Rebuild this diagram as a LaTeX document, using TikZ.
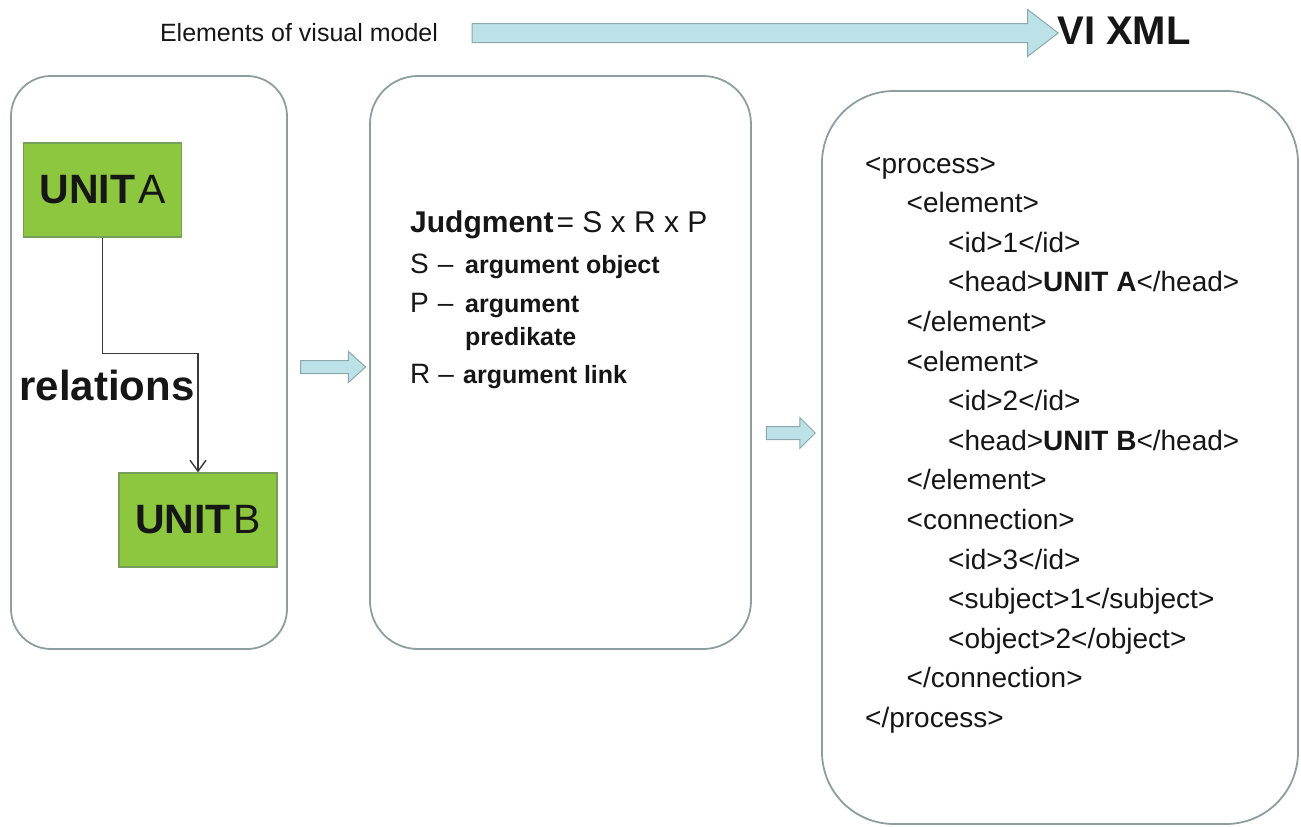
\documentclass[tikz,border=0pt]{standalone}
\usepackage{fontspec}
\setmainfont{Liberation Sans}
\usepackage{tikz}
\usetikzlibrary{arrows.meta,positioning,calc,shapes.arrows}
\definecolor{ink}{HTML}{161616}
\definecolor{frame}{HTML}{8E9E9E}
\definecolor{leaf}{HTML}{8DC63F}
\definecolor{leafedge}{HTML}{76A05A}
\definecolor{ice}{HTML}{BCE2E7}
\definecolor{iceedge}{HTML}{8AA7AA}

\begin{document}
\begin{tikzpicture}[
    x=1pt, y=-1pt,
    panel/.style={
      rectangle,
      draw=frame,
      line width=1.8pt,
      inner sep=0pt
    },
    unitbox/.style={
      rectangle,
      fill=leaf,
      draw=leafedge,
      line width=1.2pt,
      minimum width=158pt,
      minimum height=94pt,
      inner sep=0pt,
      text=ink,
      font=\fontsize{41}{49}\selectfont
    },
    blockarrow/.style={
      single arrow,
      draw=iceedge,
      fill=ice,
      line width=1pt,
      inner xsep=0pt,
      inner ysep=6pt,
      single arrow head extend=9pt,
      single arrow tip angle=84
    },
    keytext/.style={anchor=base west, inner sep=0pt, text=ink, font=\fontsize{28}{33}\selectfont},
    desctext/.style={anchor=base west, inner sep=0pt, text=ink, font=\fontsize{25}{30}\selectfont\bfseries},
    xmlline/.style={anchor=base west, inner sep=0pt, text=ink, font=\fontsize{28}{33}\selectfont},
    link/.style={draw=ink!85, line width=1.4pt, -{Straight Barb[length=11pt,width=16pt]}}
  ]
  \useasboundingbox (0,0) rectangle (1301,827);

  % title row
  \node[inner sep=0pt, text=ink, font=\fontsize{25}{30}\selectfont] (elements) at (299,33) {Elements of visual model};
  \node[
    blockarrow,
    inner ysep=9pt,
    single arrow head extend=14pt,
    single arrow tip angle=75,
    minimum height=586pt
  ] (flow) at (759,33) {};
  \node[inner sep=0pt, text=ink, font=\fontsize{40}{48}\selectfont\bfseries] (vixml) at (1124,31) {VI XML};

  % three panels
  \node[panel, minimum width=276pt, minimum height=573pt, rounded corners=40pt] (visual) at (149,362.5) {};
  \node[panel, minimum width=381pt, minimum height=573pt, rounded corners=48pt] (judge) at (560.5,362.5) {};
  \node[panel, minimum width=476pt, minimum height=733pt, rounded corners=72pt] (xml) at (1060,457.5) {};

  % visual model
  \node[unitbox] (unita) at (102.5,190) {{\bfseries UNIT}\kern3pt A};
  \node[unitbox] (unitb) at (198,520) {{\bfseries UNIT}\kern3pt B};
  \draw[link] (unita.south) -- ++(0,116) -| (unitb.north);
  \node[inner sep=0pt, text=ink, font=\fontsize{42}{50}\selectfont\bfseries] (relations) at (107,385) {relations};

  \node[blockarrow, minimum height=65pt] (tojudge) at (329.5,367) {};
  \node[blockarrow, minimum height=49pt, single arrow tip angle=90] (toxml) at (787.5,433) {};

  % judgment
  \node[keytext, font=\fontsize{30}{36}\selectfont] (judgment) at (410,232) {{\bfseries Judgment}\kern3pt= S x R x P};
  \node[keytext] (keys) at (410,273) {S\kern9pt--};
  \node[desctext] (descs) at (465,273) {argument object};
  \node[keytext] (keyp) at (410,312) {P\kern9pt--};
  \node[desctext] (descp) at (465,312) {argument};
  \node[desctext] (descp2) at (465,345) {predikate};
  \node[keytext] (keyr) at (410,383) {R\kern8pt--};
  \node[desctext] (descr) at (463,383) {argument link};

  % xml listing
  \foreach \ind/\txt [count=\i] in {
      0/{<process>},
      1/{<element>},
      2/{<id>1</id>},
      2/{<head>\textbf{UNIT A}</head>},
      1/{</element>},
      1/{<element>},
      2/{<id>2</id>},
      2/{<head>\textbf{UNIT B}</head>},
      1/{</element>},
      1/{<connection>},
      2/{<id>3</id>},
      2/{<subject>1</subject>},
      2/{<object>2</object>},
      1/{</connection>},
      0/{</process>}}
    \node[xmlline] (tag\i) at (865+\ind*41.5, 173+\i*39.6-39.6) {\txt};
\end{tikzpicture}
\end{document}
